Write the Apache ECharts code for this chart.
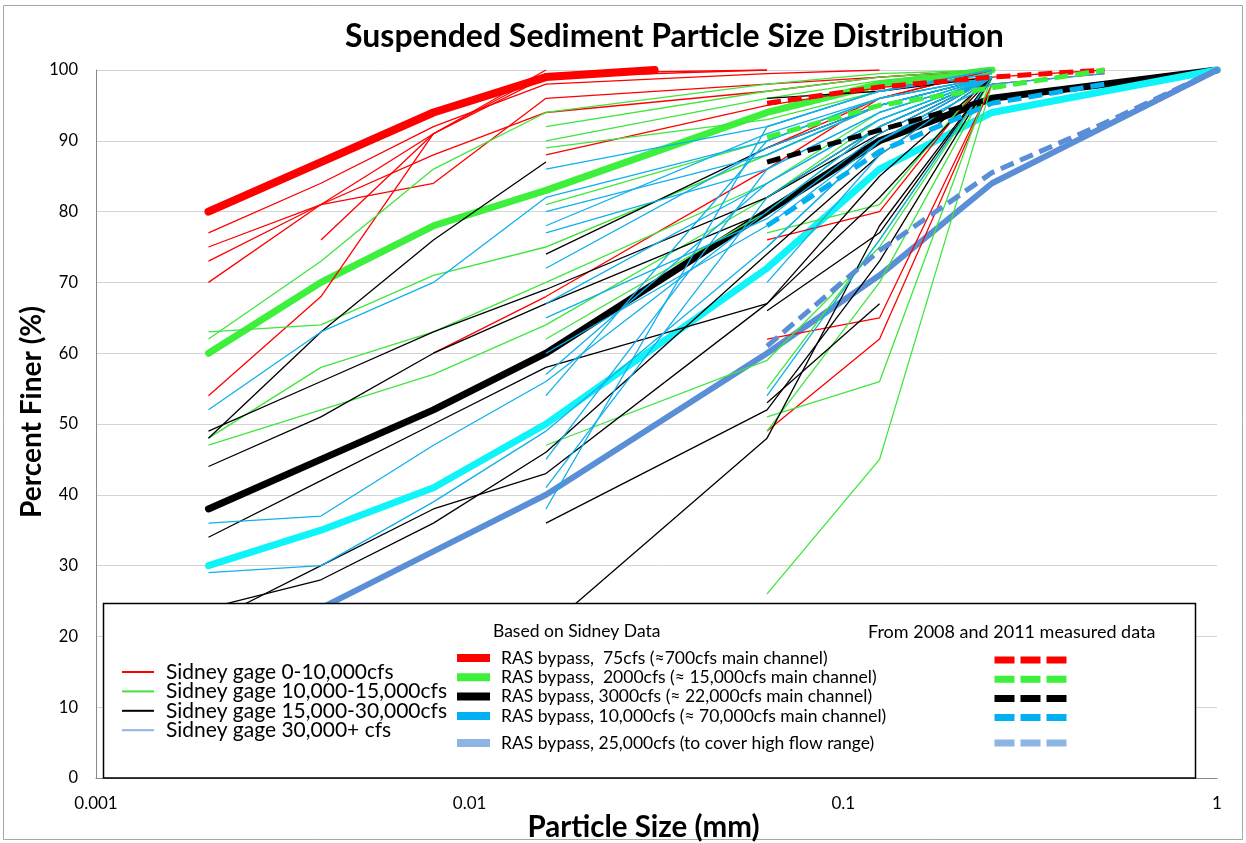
<!DOCTYPE html>
<html>
<head>
<meta charset="utf-8">
<title>Suspended Sediment Particle Size Distribution</title>
<script src="https://cdn.jsdelivr.net/npm/echarts@6.0.0/dist/echarts.min.js"></script>
<style>
    html, body { margin: 0; padding: 0; background: #fff; }
    #chart { width: 1246px; height: 843px; }
</style>
</head>
<body>
<div id="chart"></div>
<script>
    'use strict';

    const _ = null;

    // particle sizes (mm) of the sampled points
    const sizes = [0.002, 0.004, 0.008, 0.016, 0.0625, 0.125, 0.25, 0.5, 1];
    const sizes75 = [0.002, 0.004, 0.008, 0.016, 0.03125];

    // ------------------ Sidney gage samples (percent finer) -------------
    const red0to10k = [
        [77, 84, 92, 98, 99.5, 100],
        [75, 81, 88, 94, 97, 99, 100],
        [73, 81, 84, 96, 98, 99, 100],
        [70, 81, 91, 100],
        [_, 76, 91, 99, 100],
        [54, 68, 91, 99.5, 100],
        [_, _, _, 88, 95, 97.5, 99, 100],
        [_, _, 60, 68, 86, 96, 100],
        [_, _, _, _, 62, 65, 98, 99.5],
        [_, _, _, _, 49, 62, 98],
        [_, _, _, _, 76, 80, 100],
        [_, _, _, _, 89, 96, 100]
    ];
    const green10kto15k = [
        [63, 64, 71, 75, 88, 95, 99],
        [62, 73, 86, 94, 98, 99.5, 100],
        [48, 58, 63, 70, 84, 94, 99],
        [47, 52, 57, 64, 82, 93, 99],
        [_, _, _, 92, 97, 99, 100],
        [_, _, _, 90, 96, 98.5, 100],
        [_, _, _, 89, 93, 97, 99.5],
        [_, _, _, 81, 90, 96, 99],
        [_, _, _, 75, 88, 95, 99],
        [_, _, _, 62, 80, 92, 99],
        [_, _, _, 47, 59, 75, 99],
        [_, _, _, _, 55, 76, 99],
        [_, _, _, _, 51, 56, 99],
        [_, _, _, _, 49, 70, 99],
        [_, _, _, _, 26, 45, 98],
        [_, _, _, _, 77, 81, 100]
    ];
    const black15kto30k = [
        [49, 56, 63, 69, 82, 91, 99],
        [48, 63, 76, 87],
        [44, 51, 60, 67, 80, 90, 99],
        [34, 42, 50, 58, 67, 85, 99],
        [24, 28, 36, 46, 74, 88, 99],
        [22, 30, 38, 43, 67, 82, 99],
        [_, _, _, 36, 52, 73, 99],
        [_, _, 10, 21, 48, 78, 99],
        [_, _, _, 74, 89, 95, 99],
        [_, _, _, _, 96, 97, 99],
        [_, _, _, _, 53, 67],
        [_, _, _, _, 82, 92, 99],
        [_, _, _, _, 66, 77, 99]
    ];
    const blue30kPlus = [
        [52, 63, 70, 82, 90, 96, 99],
        [36, 37, 47, 56, 80, 92, 99],
        [29, 30, 39, 49, 75, 90, 99],
        [_, _, _, 86, 92, 97, 100],
        [_, _, _, 80, 88, 95, 99],
        [_, _, _, 78, 91, 96, 99],
        [_, _, _, 77, 86, 94, 99],
        [_, _, _, 72, 89, 95, 99],
        [_, _, _, 67, 84, 93, 99],
        [_, _, _, 65, 79, 91, 99],
        [_, _, _, 60, 78, 90, 99],
        [_, _, _, 57, 84, 93, 99],
        [_, _, _, 54, 90, 96, 99],
        [_, _, _, 45, 86, 94, 99],
        [_, _, _, 41, 82, 92, 99],
        [_, _, _, 38, 92, 97, 99.5],
        [_, _, _, _, 92, 97, 100],
        [_, _, _, _, 88, 95, 99],
        [_, _, _, _, 70, 88, 99],
        [_, _, _, _, 54, 76, 99],
        [_, _, _, _, 75, 90, 98, 99.5]
    ];

    // ------------------ RAS bypass curves -------------
    const ras75 = [80, 87, 94, 99, 100];
    const ras2000 = [60, 70, 78, 83, 94, 98, 100];
    const ras3000 = [38, 45, 52, 60, 80, 90, 96, 98, 100];
    const ras10000 = [30, 35, 41, 50, 72, 86, 94, 97, 100];
    const ras25000 = [16, 24, 32, 40, 60, 71, 84, 92, 100];

    // ------------------ 2008 / 2011 measured -------------
    const meas75 = [_, _, _, _, 95.3, 97.6, 99, 100];
    const meas2000 = [_, _, _, _, 90.5, 95, 97.5, 100];
    const meas3000 = [_, _, _, _, 87, 91.5, 96];
    const meas10000 = [_, _, _, _, 78, 88.5, 95.3, 98];
    const meas25000 = [_, _, _, _, 61, 74.5, 85.5, 92.5, 100];

    const yTicks = [0, 10, 20, 30, 40, 50, 60, 70, 80, 90, 100];

    const FONT = 'Lato, "Open Sans", sans-serif';

    const NAME_RED = 'Sidney gage 0-10,000cfs';
    const NAME_GREEN = 'Sidney gage 10,000-15,000cfs';
    const NAME_BLACK = 'Sidney gage 15,000-30,000cfs';
    const NAME_BLUE = 'Sidney gage 30,000+ cfs';

    const RAS = [
        {name: 'RAS bypass,  75cfs (≈700cfs main channel)', xs: sizes75, v: ras75, color: '#ff0000', legend: '#ff0000', width: 8},
        {name: 'RAS bypass,  2000cfs (≈ 15,000cfs main channel)', xs: sizes, v: ras2000, color: '#3cf03c', legend: '#3cf03c', width: 7},
        {name: 'RAS bypass, 3000cfs (≈ 22,000cfs main channel)', xs: sizes, v: ras3000, color: '#000000', legend: '#000000', width: 7},
        {name: 'RAS bypass, 10,000cfs (≈ 70,000cfs main channel)', xs: sizes, v: ras10000, color: '#0ff4f8', legend: '#00b0f0', width: 7},
        {name: 'RAS bypass, 25,000cfs (to cover high flow range)', xs: sizes, v: ras25000, color: '#5a8ed6', legend: '#8db4e2', width: 6}
    ];
    const MEAS = [
        {name: 'Measured 75cfs', v: meas75, color: '#ff0000', legend: '#ff0000'},
        {name: 'Measured 2000cfs', v: meas2000, color: '#3cf03c', legend: '#3cf03c'},
        {name: 'Measured 3000cfs', v: meas3000, color: '#000000', legend: '#000000'},
        {name: 'Measured 10,000cfs', v: meas10000, color: '#00b0f0', legend: '#00b0f0'},
        {name: 'Measured 25,000cfs', v: meas25000, color: '#5a8ed6', legend: '#8db4e2'}
    ];

    const toPairs = (xs, vals) => vals
        .map((v, i) => (v == null ? null : [xs[i], v]))
        .filter((p) => p);

    let series = [];

    // thick model curves first, thin samples are drawn over them
    RAS.forEach((r) => {
        series.push({
            name: r.name,
            type: 'line',
            data: toPairs(r.xs, r.v),
            symbol: 'none',
            lineStyle: {color: r.color, width: r.width, cap: 'round', join: 'round'},
            itemStyle: {color: r.color}
        });
    });

    const thin = (name, color, lines) => {
        lines.forEach((v) => {
            series.push({
                name: name,
                type: 'line',
                data: toPairs(sizes, v),
                symbol: 'none',
                lineStyle: {color: color, width: 1.3},
                itemStyle: {color: color}
            });
        });
    };
    thin(NAME_RED, '#ff0000', red0to10k);
    thin(NAME_GREEN, '#3ee63e', green10kto15k);
    thin(NAME_BLACK, '#000000', black15kto30k);
    thin(NAME_BLUE, '#0fb0ec', blue30kPlus);

    MEAS.forEach((m) => {
        series.push({
            name: m.name,
            type: 'line',
            data: toPairs(sizes, m.v),
            symbol: 'none',
            lineStyle: {color: m.color, width: 5, type: [14, 7]},
            itemStyle: {color: m.color}
        });
    });

    const legendText = {fontFamily: FONT, color: '#000'};
    const noDot = {opacity: 0};

    let legends = [
        {
            // Sidney gage samples
            orient: 'vertical', left: 121, top: 661.5, padding: 0, z: 60,
            itemWidth: 32, itemHeight: 10, itemGap: -1.6,
            selectedMode: false,
            textStyle: Object.assign({fontSize: 21, lineHeight: 19.3, padding: [0, 0, 0, 7]}, legendText),
            data: [
                {name: NAME_RED, itemStyle: noDot, lineStyle: {color: '#ff0000', width: 2}},
                {name: NAME_GREEN, itemStyle: noDot, lineStyle: {color: '#3ee63e', width: 2}},
                {name: NAME_BLACK, itemStyle: noDot, lineStyle: {color: '#000', width: 2}},
                {name: NAME_BLUE, itemStyle: noDot, lineStyle: {color: '#8db4e2', width: 2}}
            ]
        }
    ];
    // RAS and measured columns: first four evenly spaced, the fifth a bit lower
    [[0, 4, 658, 0], [4, 5, 743, -2]].forEach(([a, b, mid, shift]) => {
        legends.push({
            orient: 'vertical', left: 453, top: mid - 9.65, padding: 0, z: 60,
            itemWidth: 33, itemHeight: 8, itemGap: 0,
            selectedMode: false,
            textStyle: Object.assign({fontSize: 17.5, lineHeight: 19.3, padding: [0, 0, 0, 6]}, legendText),
            data: RAS.slice(a, b).map((r) => ({
                name: r.name,
                itemStyle: noDot,
                lineStyle: {color: r.legend, width: 8, cap: 'butt'}
            }))
        });
        legends.push({
            orient: 'vertical', left: 991, top: mid - 1.5 + shift, padding: 0, z: 60,
            itemWidth: 72, itemHeight: 8, itemGap: 12.2,
            selectedMode: false,
            formatter: () => '',
            textStyle: Object.assign({fontSize: 10, lineHeight: 8}, legendText),
            data: MEAS.slice(a, b).map((m) => ({
                name: m.name,
                itemStyle: noDot,
                lineStyle: {color: m.legend, width: 7, type: [20, 6], cap: 'butt'}
            }))
        });
    });

    const option = {
        animation: false,
        backgroundColor: '#fff',
        textStyle: {fontFamily: FONT},
        title: {
            text: 'Suspended Sediment Particle Size Distribution',
            left: 345,
            top: 21,
            padding: 0,
            textStyle: {fontFamily: FONT, fontSize: 32, fontWeight: 'bold', color: '#000'}
        },
        legend: legends,
        grid: {left: 96, right: 29, top: 70, bottom: 65, containLabel: false, outerBoundsMode: 'none'},
        xAxis: {
            type: 'log',
            logBase: 10,
            min: 0.001,
            max: 1,
            name: 'Particle Size (mm)',
            nameLocation: 'middle',
            nameGap: 34,
            nameMoveOverlap: false,
            nameTextStyle: {fontFamily: FONT, fontSize: 29.5, fontWeight: 'bold', color: '#000', padding: [0, 26, 0, 0]},
            axisLine: {lineStyle: {color: '#888'}},
            axisTick: {show: false},
            minorTick: {show: false},
            splitLine: {show: false},
            axisLabel: {
                margin: 17,
                fontSize: 17,
                color: '#000',
                fontFamily: FONT,
                formatter: (v) => String(+(+v).toPrecision(3))
            }
        },
        yAxis: {
            type: 'value',
            min: yTicks[0],
            max: yTicks[yTicks.length - 1],
            interval: 10,
            name: 'Percent Finer (%)',
            nameLocation: 'middle',
            nameGap: 50,
            nameMoveOverlap: false,
            nameTextStyle: {fontFamily: FONT, fontSize: 28, fontWeight: 'bold', color: '#000', padding: [0, 0, 0, 24]},
            axisLine: {show: true, lineStyle: {color: '#888'}},
            axisTick: {show: false},
            splitLine: {lineStyle: {color: '#d4d4d4', width: 1}},
            axisLabel: {margin: 18, fontSize: 16.5, color: '#000', fontFamily: FONT}
        },
        graphic: {
            elements: [
                {
                    type: 'rect', z: -1, silent: true,
                    shape: {x: 3.5, y: 5.5, width: 1239, height: 834},
                    style: {fill: 'none', stroke: '#a6a6a6', lineWidth: 1}
                },
                {
                    type: 'rect', z: 50, silent: true,
                    shape: {x: 103.5, y: 603.5, width: 1092, height: 174.5},
                    style: {fill: '#fff', stroke: '#000', lineWidth: 1.5}
                },
                {
                    type: 'text', z: 60, silent: true, left: 493, top: 622,
                    style: {text: 'Based on Sidney Data', fontFamily: FONT, fontSize: 17.5, fill: '#000'}
                },
                {
                    type: 'text', z: 60, silent: true, left: 868, top: 623,
                    style: {text: 'From 2008 and 2011 measured data', fontFamily: FONT, fontSize: 18, fill: '#000'}
                }
            ]
        },
        series: series
    };

    const chart = echarts.init(document.getElementById('chart'), null, {renderer: 'canvas'});
    chart.setOption(option);
</script>
</body>
</html>
